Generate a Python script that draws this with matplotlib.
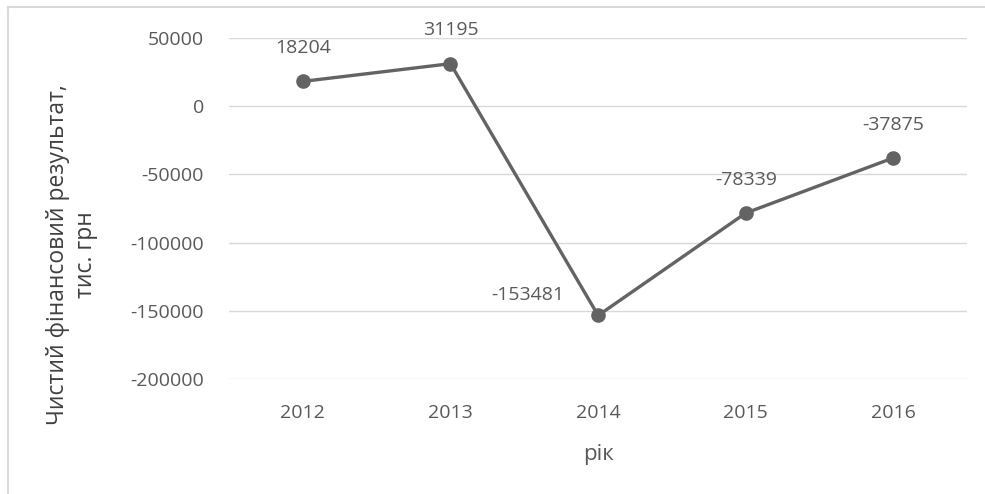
import matplotlib
matplotlib.use("Agg")
import matplotlib.pyplot as plt
from matplotlib.lines import Line2D

# Data
years = ["2012", "2013", "2014", "2015", "2016"]
values = [18204, 31195, -153481, -78339, -37875]
yticks = [50000, 0, -50000, -100000, -150000, -200000]

plt.rcParams["font.family"] = ["Open Sans", "DejaVu Sans"]
gray = "#595959"
line_gray = "#636363"

fig = plt.figure(figsize=(9.85, 4.94), dpi=100)
ax = fig.add_axes([0.2325, 0.233, 0.7495, 0.69])

x = list(range(len(years)))
ax.plot(x, values, color=line_gray, lw=2.4, marker="o", ms=9.5, zorder=3)

# data labels
for i, v in enumerate(values):
    if i == 2:
        off = (-51, 15)
    else:
        off = (0, 24)
    ax.annotate(str(v), (i, v), xytext=off, textcoords="offset points",
                ha="center", va="center", fontsize=14, color=gray)

ax.set_xlim(-0.5, len(years) - 0.5)
ax.set_ylim(-200000, 50000)
ax.set_yticks(yticks)
ax.set_yticklabels([str(t) for t in yticks])
ax.set_xticks(x)
ax.set_xticklabels(years)
ax.grid(axis="y", color="#d9d9d9", lw=1)
ax.set_axisbelow(True)
for s in ax.spines.values():
    s.set_visible(False)
ax.tick_params(length=0, labelsize=14, colors=gray)
ax.tick_params(axis="y", pad=18)
ax.tick_params(axis="x", pad=18)

ax.set_xlabel("рік", fontsize=16, color=gray)
ax.xaxis.set_label_coords(0.5, -0.19)
fig.text(72 / 985, 1 - 255 / 494, "Чистий фінансовий результат,\nтис. грн",
         rotation=90, ha="center", va="center", multialignment="center",
         fontsize=16.5, color="#404040", linespacing=1.2)

# chart border (left and top visible)
fig.lines.append(Line2D([8 / 985, 8 / 985], [0, 1 - 7 / 494], transform=fig.transFigure,
                        color="#d9d9d9", lw=1.5))
fig.lines.append(Line2D([8 / 985, 1], [1 - 7 / 494, 1 - 7 / 494], transform=fig.transFigure,
                        color="#d9d9d9", lw=1.5))

fig.savefig("out.png", dpi=100)
